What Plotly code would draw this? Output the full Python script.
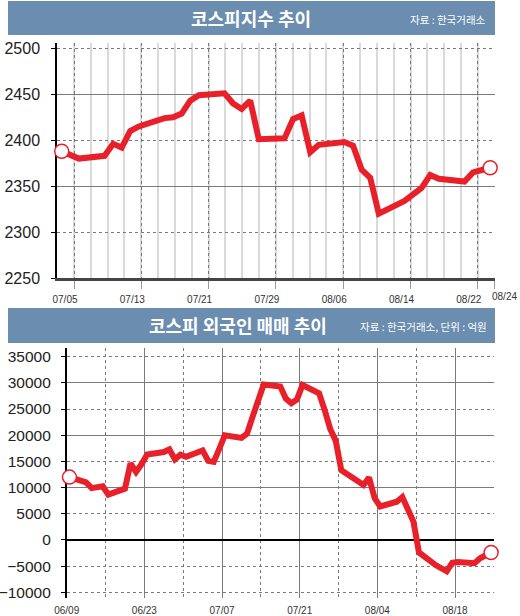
import pandas as pd
import plotly.graph_objects as go

# KOSPI closing index, 2017 trading days
kospi_dates = [
    '2017-07-05', '2017-07-06', '2017-07-07', '2017-07-10', '2017-07-11',
    '2017-07-12', '2017-07-13', '2017-07-14', '2017-07-17', '2017-07-18',
    '2017-07-19', '2017-07-20', '2017-07-21', '2017-07-24', '2017-07-25',
    '2017-07-26', '2017-07-27', '2017-07-28', '2017-07-31', '2017-08-01',
    '2017-08-02', '2017-08-03', '2017-08-04', '2017-08-07', '2017-08-08',
    '2017-08-09', '2017-08-10', '2017-08-11', '2017-08-14', '2017-08-16',
    '2017-08-17', '2017-08-18', '2017-08-21', '2017-08-22', '2017-08-23',
    '2017-08-24',
]
kospi_values = [
    2388, 2384, 2380, 2383, 2396, 2392, 2410, 2415, 2424, 2425,
    2429, 2443, 2449, 2451, 2440, 2434, 2443, 2401, 2402, 2423,
    2427, 2387, 2395, 2398, 2394, 2368, 2359, 2320, 2334, 2348,
    2362, 2358, 2355, 2365, 2367, 2370,
]

# foreign investors, cumulative net buying (100 million won)
foreign_dates = [
    '2017-06-09', '2017-06-12', '2017-06-13', '2017-06-14', '2017-06-15',
    '2017-06-16', '2017-06-19', '2017-06-20', '2017-06-21', '2017-06-22',
    '2017-06-23', '2017-06-26', '2017-06-27', '2017-06-28', '2017-06-29',
    '2017-06-30', '2017-07-03', '2017-07-04', '2017-07-05', '2017-07-06',
    '2017-07-07', '2017-07-10', '2017-07-11', '2017-07-12', '2017-07-13',
    '2017-07-14', '2017-07-17', '2017-07-18', '2017-07-19', '2017-07-20',
    '2017-07-21', '2017-07-24', '2017-07-25', '2017-07-26', '2017-07-27',
    '2017-07-28', '2017-07-31', '2017-08-01', '2017-08-02', '2017-08-03',
    '2017-08-04', '2017-08-07', '2017-08-08', '2017-08-09', '2017-08-10',
    '2017-08-11', '2017-08-14', '2017-08-16', '2017-08-17', '2017-08-18',
    '2017-08-21', '2017-08-22', '2017-08-23', '2017-08-24',
]
foreign_values = [
    12000, 11000, 9900, 10100, 10250, 8650, 9800, 14600, 13000, 14500,
    16300, 16800, 17300, 15400, 16300, 15900, 17100, 15100, 14900, 17400,
    20000, 19500, 20300, 23500, 27000, 29700, 29300, 27000, 26100, 26800,
    29600, 28000, 24800, 21200, 18900, 13300, 11200, 10500, 11900, 8000,
    6400, 7300, 8200, 5700, 3500, -2400, -4800, -6000, -4350, -4200,
    -4450, -3500, -2900, -2400,
]

top_tick_labels = ['07/05', '07/13', '07/21', '07/29', '08/06', '08/14', '08/22']
top_last_label = '08/24'
top_y_ticks = [2250, 2300, 2350, 2400, 2450, 2500]
top_y_solid = [2350, 2450]

bottom_y_ticks = list(range(-10000, 35001, 5000))
bottom_y_solid = [10000, 20000, 30000]

RED = '#e8202a'
BAR = '#6a8db0'
GRID = '#7a7a7a'
W, H = 520, 616
DAY = 86400000

num_font = dict(family='Liberation Sans, Arial, sans-serif', size=16, color='#222')
num_font_small = dict(num_font, size=15.5)
date_font = dict(family='Liberation Sans, Arial, sans-serif', size=10, color='#333')
kr_font = 'Noto Sans CJK KR'


def px(x):
    return x / W


def py(y):
    return 1 - y / H


# top chart x grid: the designer's grid does not sit on calendar days
x0 = pd.Timestamp('2017-07-04 10:50')
x1 = pd.Timestamp('2017-08-24 13:30')
span_ms = (x1 - x0).value // 10**6
minor_ms = round(span_ms * 67.3 / 438 / 4)
grid0 = x0 + pd.Timedelta(milliseconds=round(span_ms * 17 / 438))
major = [grid0 + pd.Timedelta(milliseconds=4 * k * minor_ms) for k in range(7)]
major.append(x1 - pd.Timedelta(minutes=20))
fmt = '%Y-%m-%d %H:%M:%S'
major = [t.strftime(fmt) for t in major]

fig = go.Figure()

fig.add_trace(go.Scatter(
    x=kospi_dates, y=kospi_values, mode='lines',
    line=dict(color=RED, width=6), xaxis='x', yaxis='y', hoverinfo='x+y',
))
fig.add_trace(go.Scatter(
    x=[kospi_dates[0], kospi_dates[-1]], y=[kospi_values[0], kospi_values[-1]],
    mode='markers', cliponaxis=False, xaxis='x', yaxis='y3',
    marker=dict(size=14, color='white', line=dict(color=RED, width=1.5)),
))

# bottom chart points sit at midday
fdates = pd.to_datetime(foreign_dates) + pd.Timedelta(hours=12)
fig.add_trace(go.Scatter(
    x=fdates, y=foreign_values, mode='lines',
    line=dict(color=RED, width=6), xaxis='x2', yaxis='y2', hoverinfo='x+y',
))
fig.add_trace(go.Scatter(
    x=[fdates[0], fdates[-1]], y=[foreign_values[0], foreign_values[-1]],
    mode='markers', cliponaxis=False, xaxis='x2', yaxis='y4',
    marker=dict(size=14, color='white', line=dict(color=RED, width=1.5)),
))

top_range = [2250, 2506.1]
bottom_range = [-11090, 36660]

fig.update_layout(
    width=W, height=H, margin=dict(l=0, r=0, t=0, b=0, autoexpand=False),
    paper_bgcolor='white', plot_bgcolor='white', showlegend=False,
    xaxis=dict(
        domain=[px(57), px(495)], anchor='y', type='date', automargin=False,
        range=[x0.strftime(fmt), x1.strftime(fmt)], tickmode='array',
        tickvals=major, ticktext=top_tick_labels + [''], ticklabelshift=-9,
        ticks='outside', ticklen=8, tickcolor='#999', ticklabelstandoff=2,
        showgrid=True, gridcolor=GRID, griddash='dot', gridwidth=1,
        minor=dict(tick0=major[0], dtick=minor_ms, showgrid=True,
                   gridcolor='#dadada', gridwidth=1.6, griddash='solid'),
        showline=True, linecolor='#444', linewidth=2.5,
        tickfont=date_font, zeroline=False,
    ),
    yaxis=dict(
        domain=[py(278), py(42.7)], anchor='x', range=top_range,
        automargin=False, tickmode='array', tickvals=top_y_ticks,
        tickformat='d', showgrid=True, gridcolor=GRID, griddash='dot',
        zeroline=False, ticks='outside', ticklen=4, tickcolor='black',
        showline=True, linecolor='black', linewidth=1.5,
        layer='below traces', tickfont=num_font, ticklabelstandoff=8,
    ),
    yaxis3=dict(
        overlaying='y', anchor='x', range=top_range, automargin=False,
        tickmode='array', tickvals=top_y_solid, showticklabels=False,
        ticks='', showgrid=True, gridcolor=GRID, gridwidth=1,
        zeroline=False, showline=False,
    ),
    xaxis2=dict(
        domain=[px(66.7), px(494)], anchor='y2', type='date', automargin=False,
        range=['2017-06-09', '2017-08-25 00:30'],
        tick0='2017-06-09', dtick=14 * DAY, tickformat='%m/%d',
        ticks='', ticklabelstandoff=5,
        showgrid=True, gridcolor=GRID, gridwidth=1,
        minor=dict(tick0='2017-06-09', dtick=7 * DAY, showgrid=True,
                   gridcolor=GRID, griddash='dot'),
        showline=False, zeroline=False, tickfont=date_font,
    ),
    yaxis2=dict(
        domain=[py(598), py(348)], anchor='x2', range=bottom_range,
        automargin=False, tickmode='array', tickvals=bottom_y_ticks,
        tickformat='d', showgrid=True, gridcolor=GRID, griddash='dot',
        zeroline=True, zerolinecolor='black', zerolinewidth=1.5,
        ticks='outside', ticklen=4, tickcolor='black',
        showline=True, linecolor='black', linewidth=1.5,
        layer='below traces', tickfont=num_font_small, ticklabelstandoff=7,
    ),
    yaxis4=dict(
        overlaying='y2', anchor='x2', range=bottom_range, automargin=False,
        tickmode='array', tickvals=bottom_y_solid, showticklabels=False,
        ticks='', showgrid=True, gridcolor=GRID, gridwidth=1,
        zeroline=False, showline=False,
    ),
)

# title bars
for top, bottom in [(1, 35), (308, 343)]:
    fig.add_shape(type='rect', xref='paper', yref='paper',
                  x0=px(8), x1=px(495), y0=py(bottom), y1=py(top),
                  fillcolor=BAR, line=dict(width=0), layer='below')

title_font = dict(family=kr_font, size=18, color='white', weight=700)
note_font = dict(family=kr_font, size=10.5, color='white')
texts = [
    ('코스피지수 추이', 251, 18, 'center', title_font),
    ('자료 : 한국거래소', 488, 19, 'right', note_font),
    ('코스피 외국인 매매 추이', 238, 325, 'center', title_font),
    ('자료 : 한국거래소, 단위 : 억원', 489, 326, 'right', note_font),
]
for text, tx, ty, anchor, font in texts:
    fig.add_annotation(text=text, x=px(tx), y=py(ty), xref='paper',
                       yref='paper', xanchor=anchor, yanchor='middle',
                       showarrow=False, font=font)

# last label of the top axis sits past the plot edge, flush with the page
fig.add_annotation(text=top_last_label, xref='paper', yref='y domain',
                   x=px(519), y=0, xanchor='right', yanchor='top', yshift=-11,
                   showarrow=False, font=date_font)

# the page's default body margin would push the figure off its window
fig.write_html('out.html', config={'displayModeBar': False},
               post_script="document.body.style.margin='0';")
